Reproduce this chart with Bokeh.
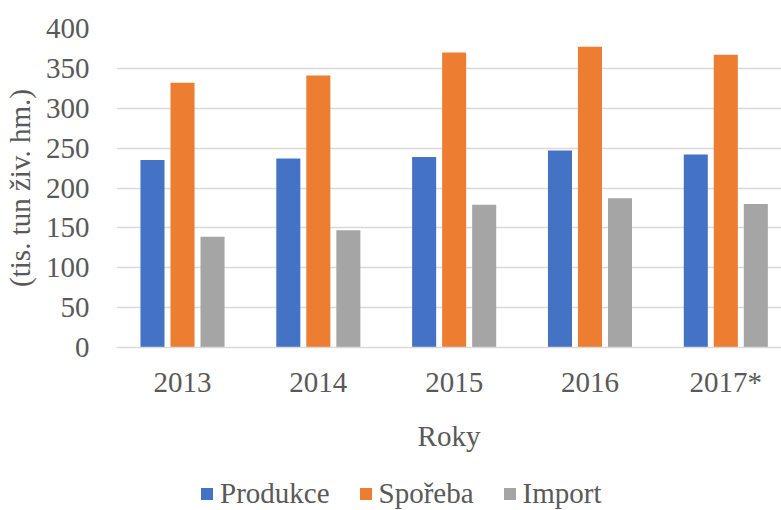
from bokeh.plotting import figure
from bokeh.models import Range1d, FixedTicker, Legend, LegendItem, ColumnDataSource
from bokeh.layouts import column
from bokeh.embed import file_html
from bokeh.resources import INLINE

years = ["2013", "2014", "2015", "2016", "2017*"]
produkce = [235, 237, 239, 247, 242]
sporeba = [332, 341, 370, 377, 367]
import_ = [139, 147, 179, 187, 180]
series_names = ["Produkce", "Spořeba", "Import"]
colors = ["#4472C4", "#ED7D31", "#A5A5A5"]
y_ticks = [0, 50, 100, 150, 200, 250, 300, 350, 400]

FONT = "Liberation Serif"
TXT = "#595959"
FS = "29px"

idx = list(range(len(years)))
p = figure(frame_width=665, frame_height=319, output_backend="svg", toolbar_location=None,
           x_range=Range1d(-0.486, 4.41), y_range=Range1d(0, 400),
           min_border_left=116, min_border_right=0, min_border_top=28, min_border_bottom=123)
p.outline_line_color = None
p.background_fill_color = "white"
p.border_fill_color = "white"

offsets = [-0.221, 0.0, 0.221]
for vals, off, col in zip([produkce, sporeba, import_], offsets, colors):
    src = ColumnDataSource(dict(x=[i + off for i in idx], top=vals))
    p.vbar(x="x", top="top", bottom=0, width=0.177, source=src, fill_color=col, line_color=None)

# axes
p.xaxis.ticker = FixedTicker(ticks=idx)
p.xaxis.major_label_overrides = {i: y for i, y in zip(idx, years)}
p.yaxis.ticker = FixedTicker(ticks=y_ticks)
for ax in (p.xaxis[0], p.yaxis[0]):
    ax.major_tick_line_color = None
    ax.minor_tick_line_color = None
    ax.major_tick_out = 0
    ax.major_tick_in = 0
    ax.major_label_text_font = FONT
    ax.major_label_text_font_size = FS
    ax.major_label_text_color = TXT
    ax.axis_label_text_font = FONT
    ax.axis_label_text_font_size = FS
    ax.axis_label_text_color = TXT
    ax.axis_label_text_font_style = "normal"
p.xaxis.axis_line_color = "#D9D9D9"
p.xaxis.axis_line_width = 1.5
p.yaxis.axis_line_color = None
p.xaxis.axis_label = "Roky"
p.yaxis.axis_label = "(tis. tun živ. hm.)"
p.xaxis.major_label_standoff = 18
p.xaxis.axis_label_standoff = 19
p.yaxis.major_label_standoff = 27
p.yaxis.axis_label_standoff = 7

p.xgrid.grid_line_color = None
p.ygrid.ticker = FixedTicker(ticks=y_ticks)
p.ygrid.grid_line_color = "#D9D9D9"
p.ygrid.grid_line_width = 1.5

# legend strip below the chart (key renderers have zero-height bars, only their legend glyphs show)
p2 = figure(width=781, height=40, output_backend="svg", toolbar_location=None,
            x_axis_type=None, y_axis_type=None,
            x_range=Range1d(0, 1), y_range=Range1d(0, 1), min_border=0)
p2.outline_line_color = None
p2.grid.visible = False
p2.background_fill_color = "white"
p2.border_fill_color = "white"
keys = []
for col in colors:
    r = p2.vbar(x="x", top="top", bottom=0, width=0.0, source=ColumnDataSource(dict(x=[0.5], top=[0])),
                fill_color=col, line_color=None)
    keys.append(r)

legend = Legend(items=[LegendItem(label=n, renderers=[r]) for n, r in zip(series_names, keys)],
                orientation="horizontal", location=(83, 0),
                glyph_width=15, glyph_height=15, label_standoff=6, spacing=28,
                padding=0, margin=0, border_line_color=None, background_fill_alpha=0,
                label_text_font=FONT, label_text_font_size=FS, label_text_color=TXT,
                label_height=30)
p2.add_layout(legend, "center")

open("out.html", "w").write(file_html(column(p, p2), INLINE))
